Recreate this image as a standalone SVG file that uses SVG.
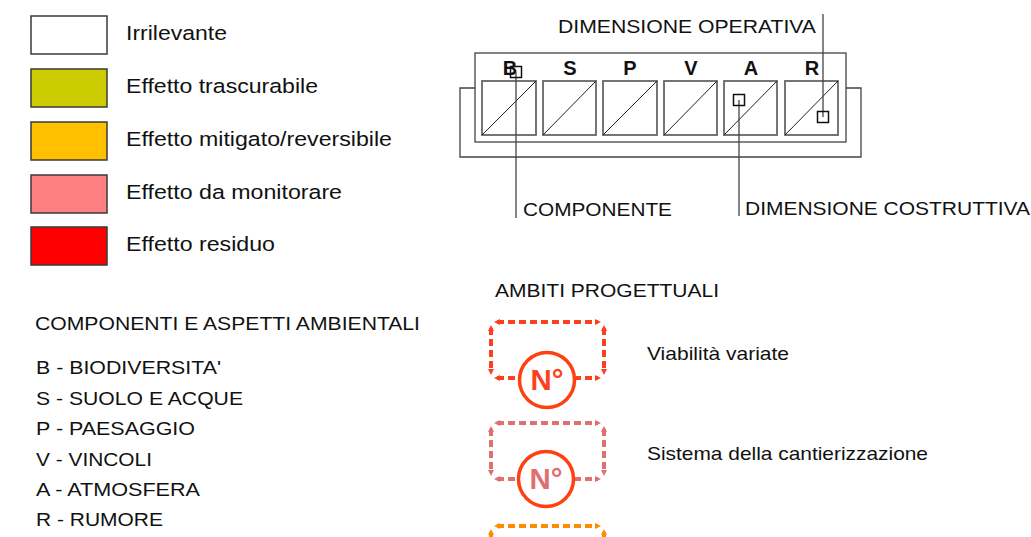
<svg xmlns="http://www.w3.org/2000/svg" width="1031" height="537" viewBox="0 0 1031 537">
<style>
  text { font-family: "Liberation Sans", Arial, sans-serif; fill: #111; }
  .leg { font-size: 20.5px; }
  .lst { font-size: 18.5px; }
  .lab { font-size: 19px; }
  .let { font-size: 20px; font-weight: bold; text-anchor: middle; }
  .num { font-size: 29px; font-weight: bold; text-anchor: middle; }
  .sw { stroke: #3a3a3a; stroke-width: 1.5; }
  .box { fill: none; stroke: #666; stroke-width: 1.8; }
  .diag { stroke: #222; stroke-width: 1; }
  .frame { fill: none; stroke: #444; stroke-width: 1.3; }
  .lead { stroke: #444; stroke-width: 1.3; fill: none; }
  .sq { fill: none; stroke: #111; stroke-width: 1.5; }
  .d1 { fill: none; stroke: #FF4020; stroke-width: 4; stroke-dasharray: 7 4; marker-start: url(#a1); marker-end: url(#a1); }
  .d2 { fill: none; stroke: #E07070; stroke-width: 4; stroke-dasharray: 7 4; marker-start: url(#a2); marker-end: url(#a2); }
  .d3 { fill: none; stroke: #FF8C00; stroke-width: 4; stroke-dasharray: 7 4; marker-start: url(#a3); marker-end: url(#a3); }
  .circ { fill: #fff; stroke: #FF4010; stroke-width: 3.5; }
</style>
<defs>
  <marker id="a1" markerUnits="userSpaceOnUse" markerWidth="6" markerHeight="6" viewBox="0 0 6 6" refX="3" refY="3" orient="auto-start-reverse"><path d="M0,0 L6,3 L0,6 z" fill="#FF4020"/></marker>
  <marker id="a2" markerUnits="userSpaceOnUse" markerWidth="6" markerHeight="6" viewBox="0 0 6 6" refX="3" refY="3" orient="auto-start-reverse"><path d="M0,0 L6,3 L0,6 z" fill="#E07070"/></marker>
  <marker id="a3" markerUnits="userSpaceOnUse" markerWidth="6" markerHeight="6" viewBox="0 0 6 6" refX="3" refY="3" orient="auto-start-reverse"><path d="M0,0 L6,3 L0,6 z" fill="#FF8C00"/></marker>
</defs>
<rect width="1031" height="537" fill="#fff"/>

<g id="legend-effects">
  <g id="leg-irrilevante"><rect class="sw" x="31" y="16" width="76" height="38" fill="#FFFFFF"/><text class="leg" x="126" y="40" textLength="101" lengthAdjust="spacingAndGlyphs">Irrilevante</text></g>
  <g id="leg-trascurabile"><rect class="sw" x="31" y="69" width="76" height="38" fill="#CCCC00"/><text class="leg" x="126" y="93" textLength="192" lengthAdjust="spacingAndGlyphs">Effetto trascurabile</text></g>
  <g id="leg-mitigato"><rect class="sw" x="31" y="122" width="76" height="38" fill="#FFC000"/><text class="leg" x="126" y="146" textLength="266" lengthAdjust="spacingAndGlyphs">Effetto mitigato/reversibile</text></g>
  <g id="leg-monitorare"><rect class="sw" x="31" y="175" width="76" height="38" fill="#FF8080"/><text class="leg" x="126" y="199" textLength="216" lengthAdjust="spacingAndGlyphs">Effetto da monitorare</text></g>
  <g id="leg-residuo"><rect class="sw" x="31" y="227" width="76" height="38" fill="#FF0000"/><text class="leg" x="126" y="251" textLength="149" lengthAdjust="spacingAndGlyphs">Effetto residuo</text></g>
</g>

<g id="legend-components">
  <text class="lst" x="35" y="330" textLength="385" lengthAdjust="spacingAndGlyphs">COMPONENTI E ASPETTI AMBIENTALI</text>
  <text class="lst" x="36" y="374" textLength="185" lengthAdjust="spacingAndGlyphs">B - BIODIVERSITA'</text>
  <text class="lst" x="36" y="405" textLength="207" lengthAdjust="spacingAndGlyphs">S - SUOLO E ACQUE</text>
  <text class="lst" x="36" y="435" textLength="159" lengthAdjust="spacingAndGlyphs">P - PAESAGGIO</text>
  <text class="lst" x="36" y="466" textLength="116" lengthAdjust="spacingAndGlyphs">V - VINCOLI</text>
  <text class="lst" x="36" y="496" textLength="164" lengthAdjust="spacingAndGlyphs">A - ATMOSFERA</text>
  <text class="lst" x="36" y="526" textLength="127" lengthAdjust="spacingAndGlyphs">R - RUMORE</text>
</g>

<g id="matrix">
  <path class="frame" d="M475,88 H460 V157 H861 V88 H846"/>
  <rect class="frame" x="475" y="53" width="371" height="89" stroke="#555" stroke-width="1.5"/>
  <g id="cell-B"><text class="let" x="510" y="75">B</text><rect class="box" x="482" y="81" width="54" height="54"/><line class="diag" x1="482" y1="135" x2="536" y2="81"/></g>
  <g id="cell-S"><text class="let" x="570" y="75">S</text><rect class="box" x="543" y="81" width="53" height="54"/><line class="diag" x1="543" y1="135" x2="596" y2="81"/></g>
  <g id="cell-P"><text class="let" x="630" y="75">P</text><rect class="box" x="603" y="81" width="54" height="54"/><line class="diag" x1="603" y1="135" x2="657" y2="81"/></g>
  <g id="cell-V"><text class="let" x="691" y="75">V</text><rect class="box" x="664" y="81" width="53" height="54"/><line class="diag" x1="664" y1="135" x2="717" y2="81"/></g>
  <g id="cell-A"><text class="let" x="751" y="75">A</text><rect class="box" x="724" y="81" width="53" height="54"/><line class="diag" x1="724" y1="135" x2="777" y2="81"/></g>
  <g id="cell-R"><text class="let" x="812" y="75">R</text><rect class="box" x="785" y="81" width="53" height="54"/><line class="diag" x1="785" y1="135" x2="838" y2="81"/></g>
</g>

<g id="connectors">
  <line class="lead" x1="516" y1="72" x2="516" y2="218"/>
  <rect class="sq" x="510.5" y="66.5" width="11" height="11"/>
  <line class="lead" x1="739" y1="100" x2="739" y2="216"/>
  <rect class="sq" x="733.5" y="94.5" width="11" height="11"/>
  <line class="lead" x1="823" y1="14" x2="823" y2="117"/>
  <rect class="sq" x="817.5" y="111.5" width="11" height="11"/>
</g>

<g id="labels">
  <text class="lab" x="558" y="33" textLength="258" lengthAdjust="spacingAndGlyphs">DIMENSIONE OPERATIVA</text>
  <text class="lab" x="523" y="216" textLength="149" lengthAdjust="spacingAndGlyphs">COMPONENTE</text>
  <text class="lab" x="745" y="215" textLength="285" lengthAdjust="spacingAndGlyphs">DIMENSIONE COSTRUTTIVA</text>
</g>

<g id="ambiti">
  <text class="lst" x="495" y="297" textLength="224" lengthAdjust="spacingAndGlyphs">AMBITI PROGETTUALI</text>
  <g id="ambito-viabilita">
    <line class="d1" x1="497" y1="322" x2="598" y2="322"/>
    <line class="d1" x1="491" y1="328" x2="491" y2="372"/>
    <line class="d1" x1="604" y1="328" x2="604" y2="372"/>
    <line class="d1" x1="497" y1="378" x2="598" y2="378"/>
    <circle class="circ" cx="547" cy="380" r="27.5"/>
    <text class="num" x="547" y="390" style="fill:#FF4020" textLength="33" lengthAdjust="spacingAndGlyphs">N°</text>
    <text class="lst" x="647" y="360" textLength="142" lengthAdjust="spacingAndGlyphs">Viabilità variate</text>
  </g>
  <g id="ambito-cantierizzazione">
    <line class="d2" x1="497" y1="423" x2="598" y2="423"/>
    <line class="d2" x1="491" y1="429" x2="491" y2="473"/>
    <line class="d2" x1="604" y1="429" x2="604" y2="473"/>
    <line class="d2" x1="497" y1="479" x2="598" y2="479"/>
    <circle class="circ" cx="546" cy="479" r="27.5"/>
    <text class="num" x="546" y="489" style="fill:#E07070" textLength="33" lengthAdjust="spacingAndGlyphs">N°</text>
    <text class="lst" x="647" y="460" textLength="281" lengthAdjust="spacingAndGlyphs">Sistema della cantierizzazione</text>
  </g>
  <g id="ambito-3">
    <line class="d3" x1="497" y1="526" x2="598" y2="526"/>
    <line class="d3" x1="491" y1="532" x2="491" y2="560"/>
    <line class="d3" x1="604" y1="532" x2="604" y2="560"/>
  </g>
</g>
</svg>
